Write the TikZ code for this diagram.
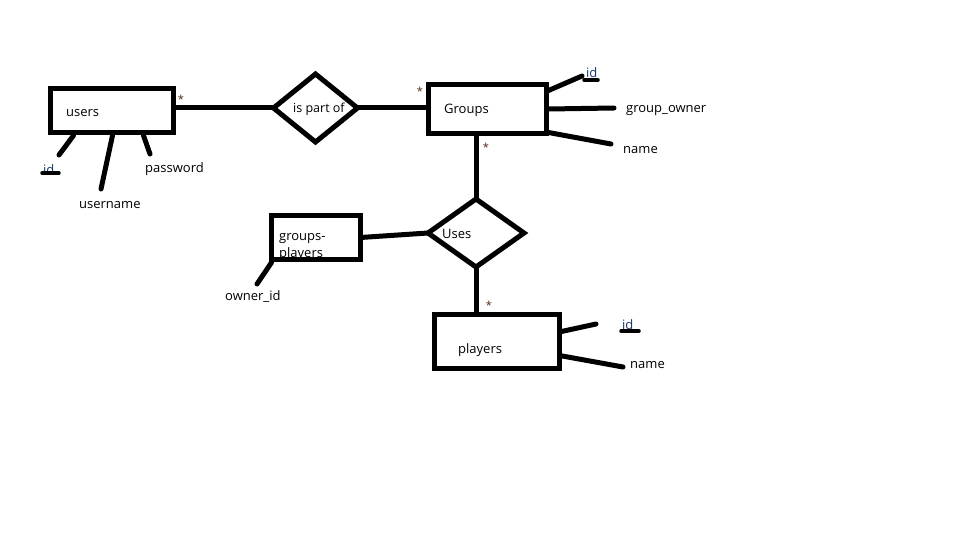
\documentclass[tikz,border=0pt]{standalone}
\usepackage{fontspec}
\setmainfont{Open Sans}
\usetikzlibrary{shapes.geometric,calc}
\definecolor{idblue}{RGB}{25,55,110}
\definecolor{starbrown}{RGB}{90,30,20}
\begin{document}
\begin{tikzpicture}[x=1pt,y=-1pt,
  txt/.style={font=\fontsize{13}{17}\selectfont, inner sep=0, anchor=west, text=black},
  idtxt/.style={txt, text=idblue},
  ent/.style={draw, rectangle, line width=5pt, inner sep=0, outer sep=0},
  rel/.style={draw, diamond, line width=5pt, inner sep=0, outer sep=0},
  conn/.style={line width=5pt},
  attr/.style={line width=5pt, line cap=round},
  uline/.style={line width=3.5pt, line cap=round},
  star/.style={font=\fontsize{11}{11}\selectfont, text=starbrown, inner sep=0}]
\useasboundingbox (0,0) rectangle (960,540);
\fill[white] (0,0) rectangle (960,540);

% entities
\node[ent, minimum width=123, minimum height=44] (users) at (112,110.5) {};
\node[ent, minimum width=118, minimum height=49] (groups) at (487.5,109) {};
\node[ent, minimum width=89, minimum height=44] (gp) at (316,237.5) {};
\node[ent, minimum width=125, minimum height=54] (players) at (497,341.5) {};

% relationships
\node[rel, minimum width=84, minimum height=68] (ispart) at (315.5,108) {};
\node[rel, minimum width=96, minimum height=68] (uses) at (476,233) {};

% texts in shapes
\node[txt] (tusers) at (66,113) {users};
\node[txt, font=\fontsize{12.5}{17}\selectfont] (tispart) at (293,109) {is part of};
\node[txt] (tgroups) at (444,110) {Groups};
\node[txt] (tuses) at (442,234) {Uses};
\node[txt, align=left] (tgp) at (279,247.5) {groups-\\players};
\node[txt] (tplayers) at (458,350) {players};

% connectors
\draw[conn] (ispart.west -| users.east) -- (ispart.west);
\draw[conn] (ispart.east) -- (ispart.east -| groups.west);
\draw[conn] (uses.north |- groups.south) -- (uses.north);
\draw[conn] (uses.south) -- (uses.south |- players.north);
\draw[conn] (gp.east) -- (uses.west);

% stars
\node[star] (s1) at (181,99) {*};
\node[star] (s2) at (420,91) {*};
\node[star] (s3) at (486,147) {*};
\node[star] (s4) at (489,305) {*};

% users attributes
\coordinate (uidend) at (59,155);
\coordinate (unameend) at (101,189);
\coordinate (upassend) at (150,154);
\draw[attr] ($(users.south west)+(23,3)$) -- (uidend);
\draw[attr] ($(users.south west)+(62,3)$) -- (unameend);
\draw[attr] ($(users.south west)+(93,3)$) -- (upassend);
\node[idtxt] (uid) at (43,170) {id};
\coordinate (uidu1) at (42,173);
\coordinate (uidu2) at (59,173);
\draw[uline] (uidu1) -- (uidu2);
\node[txt] (uname) at (79,205) {username};
\node[txt] (upass) at (145,169) {password};

% groups attributes
\coordinate (gidend) at (582,76);
\coordinate (gownend) at (614,108);
\coordinate (gnameend) at (611,144);
\draw[attr] ($(groups.north east)+(2,6)$) -- (gidend);
\draw[attr] ($(groups.east)+(2,0)$) -- (gownend);
\draw[attr] ($(groups.south east)+(2,-1)$) -- (gnameend);
\node[idtxt] (gid) at (586,73) {id};
\coordinate (gidu1) at (584,80);
\coordinate (gidu2) at (598,80);
\draw[uline] (gidu1) -- (gidu2);
\node[txt] (gown) at (626,111) {group\_owner};
\node[txt] (gname) at (623,150) {name};

% groups-players attribute
\coordinate (gpownend) at (257,284);
\draw[attr] ($(gp.south west)+(0,3)$) -- (gpownend);
\node[txt] (gpown) at (225,297) {owner\_id};

% players attributes
\coordinate (pidend) at (596,324);
\coordinate (pnameend) at (623,367);
\draw[attr] ($(players.north east)+(2,17)$) -- (pidend);
\draw[attr] ($(players.north east)+(0,41)$) -- (pnameend);
\node[idtxt] (pid) at (622,325) {id};
\coordinate (pidu1) at (621,331);
\coordinate (pidu2) at (639,331);
\draw[uline] (pidu1) -- (pidu2);
\node[txt] (pname) at (630,365) {name};
\end{tikzpicture}
\end{document}
